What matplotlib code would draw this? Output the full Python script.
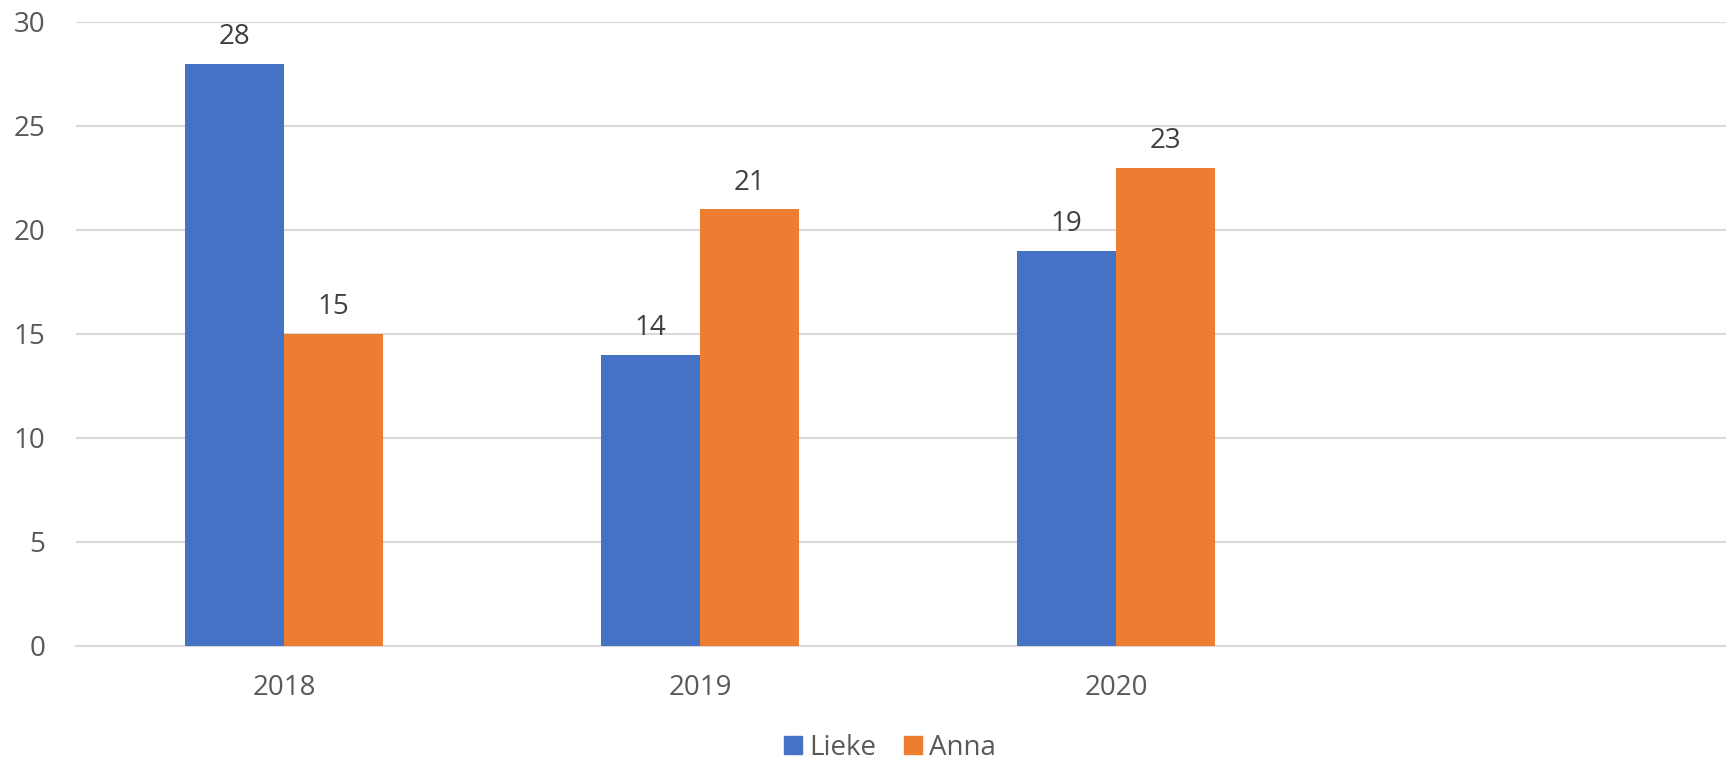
import matplotlib
matplotlib.use("Agg")
import matplotlib.pyplot as plt
from matplotlib.lines import Line2D
import numpy as np

categories = ["2018", "2019", "2020", ""]
lieke = [28, 14, 19, None]
anna = [15, 21, 23, None]
series_names = ["Lieke", "Anna"]
colors = ["#4472C4", "#ED7D31"]
yticks = [0, 5, 10, 15, 20, 25, 30]

plt.rcParams['font.family'] = ['Open Sans', 'DejaVu Sans']

fig = plt.figure(figsize=(17.26, 7.62), dpi=100)
ax = fig.add_axes([76/1726, 116/762, 1 - 76/1726, (646-22)/762])

x = np.arange(len(categories))
w = 0.238
for i, (vals, name, c) in enumerate(zip([lieke, anna], series_names, colors)):
    xs = [xi + (i - 0.5) * w for xi, v in zip(x, vals) if v is not None]
    vs = [v for v in vals if v is not None]
    bars = ax.bar(xs, vs, width=w, color=c, label=name, zorder=3)
    for b, v in zip(bars, vs):
        ax.annotate(str(v), (b.get_x() + b.get_width()/2, v), xytext=(0, 9),
                    textcoords='offset points', ha='center', va='bottom',
                    fontsize=20, color='#404040')

ax.set_ylim(0, 30)
ax.set_xlim(-0.5, 3.466)
ax.set_yticks(yticks)
ax.set_xticks(x[:3])
ax.set_xticklabels(categories[:3])
ax.grid(axis='y', color='#D9D9D9', linewidth=1.5, zorder=0)
for s in ['top', 'right', 'left']:
    ax.spines[s].set_visible(False)
ax.spines['bottom'].set_color('#D9D9D9')
ax.spines['bottom'].set_linewidth(1.5)
ax.tick_params(axis='both', length=0, labelsize=20, labelcolor='#595959')
ax.tick_params(axis='y', pad=22)
ax.tick_params(axis='x', pad=20)

handles = [Line2D([], [], marker='s', linestyle='none', markersize=13,
                  markerfacecolor=c, markeredgecolor=c) for c in colors]
fig.legend(handles, series_names, loc='lower center', bbox_to_anchor=(0.515, -0.022),
           ncol=2, frameon=False, fontsize=20, labelcolor='#595959',
           handletextpad=0.2, columnspacing=0.9, handlelength=0.8,
           borderaxespad=0.2)

fig.savefig("out.png", dpi=100)
